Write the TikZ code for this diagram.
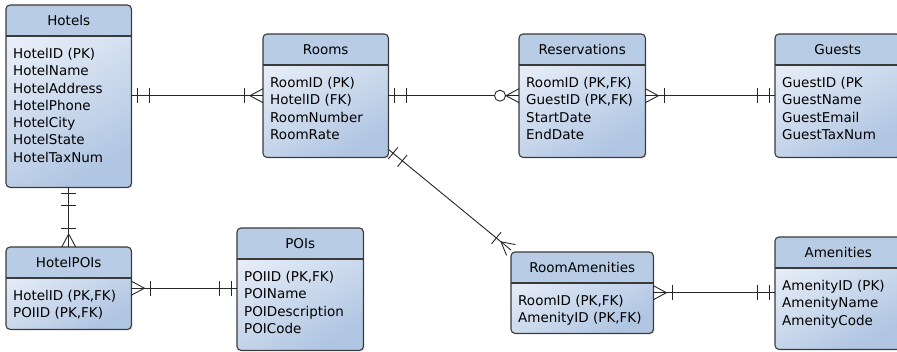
\documentclass[tikz,border=0pt]{standalone}
\usepackage{fontspec}
\setmainfont{DejaVu Sans}
\usetikzlibrary{positioning,shadows,decorations.markings}
\definecolor{headfill}{HTML}{B8CCE6}
\definecolor{bodytop}{HTML}{EAF0F9}
\definecolor{bodybot}{HTML}{B0C5E2}
\definecolor{boxline}{HTML}{3A3A3A}
\definecolor{linegray}{HTML}{262626}

\tikzset{entbox/.style={rectangle,inner sep=0pt,rounded corners=4pt,
  top color=bodytop,bottom color=bodybot,shading angle=30,
  drop shadow={opacity=0.25,shadow xshift=1.5pt,shadow yshift=-1.5pt}},
  boxedge/.style={draw=boxline,line width=1.1pt},
  titletext/.style={inner sep=0pt,font=\fontsize{13.5}{16}\selectfont},
  fieldtext/.style={inner sep=0pt,align=left,anchor=north west,
  font=\fontsize{13.5}{17.3}\selectfont},
  erline/.style={draw=linegray,line width=0.9pt},
  mk/.style 2 args={postaction={decorate,
  decoration={markings,mark=at position #1 with {#2}}}},
  onestart/.style={mk={6pt}{\erbar},mk={18pt}{\erbar}},
  oneend/.style={mk={-6pt}{\erbar},mk={-18pt}{\erbar}},
  manystart/.style={mk={13pt}{\ercrowS},mk={19pt}{\erbar}},
  manyend/.style={mk={-13pt}{\ercrowE},mk={-19pt}{\erbar}},
  zeromanyend/.style={mk={-13pt}{\ercrowE},mk={-19pt}{\erring}}}

\newcommand{\erbar}{\draw[erline] (0,-7.5pt) -- (0,7.5pt);}
\newcommand{\ercrowE}{\draw[erline] (0,0) -- (13pt,7pt) (0,0) -- (13pt,-7pt);}
\newcommand{\ercrowS}{\draw[erline] (0,0) -- (-13pt,7pt) (0,0) -- (-13pt,-7pt);}
\newcommand{\erring}{\draw[erline,fill=white] (0,0) circle (5.5pt);}

% name, left, top, width, height, title, fields
\newcommand{\erentity}[7]{%
  \node[entbox,anchor=north west,minimum width=#4pt,minimum height=#5pt] (#1) at (#2,#3) {};
  \begin{scope}
    \clip[rounded corners=4pt] (#1.north west) rectangle (#1.south east);
    \fill[headfill] (#1.north west) rectangle ([yshift=-31pt]#1.north east);
  \end{scope}
  \draw[boxedge,rounded corners=4pt] (#1.north west) rectangle (#1.south east);
  \draw[boxedge] ([yshift=-31pt]#1.north west) -- ([yshift=-31pt]#1.north east);
  \node[titletext] (#1-title) at ([yshift=-15.5pt]#1.north) {#6};
  \node[fieldtext] (#1-fields) at ([xshift=7pt,yshift=-43pt]#1.north west) {#7};
}

\begin{document}
\begin{tikzpicture}[x=1pt,y=-1pt]
    \useasboundingbox (0,0) rectangle (897,351);

    \erentity{hotels}{6}{5}{125}{182}{Hotels}{HotelID (PK)\\HotelName\\HotelAddress\\HotelPhone\\HotelCity\\HotelState\\HotelTaxNum}
    \erentity{rooms}{263}{34}{125}{123}{Rooms}{RoomID (PK)\\HotelID (FK)\\RoomNumber\\RoomRate}
    \erentity{reservations}{519}{34}{126}{123}{Reservations}{RoomID (PK,FK)\\GuestID (PK,FK)\\StartDate\\EndDate}
    \erentity{guests}{775}{34}{125}{123}{Guests}{GuestID (PK\\GuestName\\GuestEmail\\GuestTaxNum}
    \erentity{hotelpois}{6}{247}{125}{82}{HotelPOIs}{HotelID (PK,FK)\\POIID (PK,FK)}
    \erentity{pois}{237}{228}{126}{122}{POIs}{POIID (PK,FK)\\POIName\\POIDescription\\POICode}
    \erentity{roomamenities}{511}{252}{142}{81}{RoomAmenities}{RoomID (PK,FK)\\AmenityID (PK,FK)}
    \erentity{amenities}{775}{237}{126}{112}{Amenities}{AmenityID (PK)\\AmenityName\\AmenityCode}

    % relationships
    \draw[erline,onestart,manyend] (rooms.west -| hotels.east) -- (rooms.west);
    \draw[erline,onestart,zeromanyend] (rooms.east) -- (reservations.west);
    \draw[erline,manystart,oneend] (reservations.east) -- (guests.west);
    \draw[erline,onestart,manyend] (hotels.south) -- (hotelpois.north -| hotels.south);
    \draw[erline,manystart,oneend] (hotelpois.east) -- (hotelpois.east -| pois.west);
    \draw[erline,onestart,manyend] ([yshift=8pt]rooms.south east) -- ([yshift=2pt]roomamenities.north west);
    \draw[erline,manystart,oneend] (roomamenities.east) -- (roomamenities.east -| amenities.west);
\end{tikzpicture}
\end{document}
